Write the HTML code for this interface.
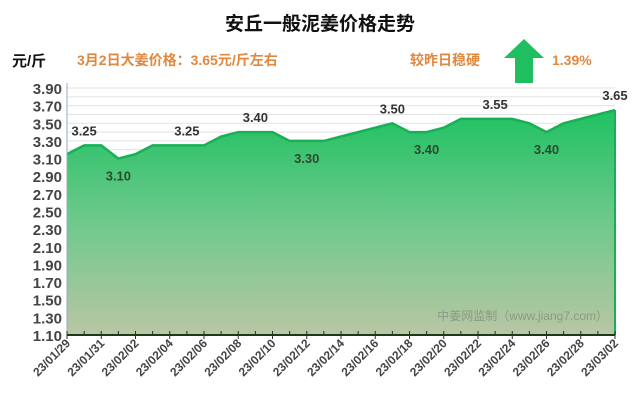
<!DOCTYPE html>
<html><head><meta charset="utf-8"><style>
body{margin:0;background:#fff;width:640px;height:410px;overflow:hidden;font-family:"Liberation Sans","Noto Sans CJK SC",sans-serif}
</style></head><body>
<svg width="640" height="410" style="font-family:'Liberation Sans','Noto Sans CJK SC',sans-serif">
<defs><linearGradient id="g" x1="0" y1="0" x2="0" y2="1"><stop offset="0" stop-color="#1fc162"/><stop offset="0.5" stop-color="#6fc98c"/><stop offset="1" stop-color="#b9c6a4"/></linearGradient></defs>
<text x="320" y="30" text-anchor="middle" font-size="19" font-weight="bold" fill="#111">安丘一般泥姜价格走势</text>
<text x="12" y="66" font-size="15" font-weight="bold" fill="#111">元/斤</text>
<text x="77" y="65" font-size="14" font-weight="bold" fill="#e2883e">3月2日大姜价格：3.65元/斤左右</text>
<text x="410" y="65" font-size="14" font-weight="bold" fill="#e2883e">较昨日稳硬</text>
<polygon points="524,39 544,58 533,58 533,83 515,83 515,58 504,58" fill="#1fbf60"/>
<text x="552" y="65" font-size="14" font-weight="bold" fill="#e2883e">1.39%</text>
<g id="grid"></g><g id="area"></g><g id="yt"></g><g id="xt"></g><g id="lbl"></g>
<text x="608" y="320" text-anchor="end" font-size="12" fill="#8a9a84">中姜网监制（www.jiang7.com）</text>
</svg>
<script>
const dates=["23/01/29","23/01/30","23/01/31","23/02/01","23/02/02","23/02/03","23/02/04","23/02/05","23/02/06","23/02/07","23/02/08","23/02/09","23/02/10","23/02/11","23/02/12","23/02/13","23/02/14","23/02/15","23/02/16","23/02/17","23/02/18","23/02/19","23/02/20","23/02/21","23/02/22","23/02/23","23/02/24","23/02/25","23/02/26","23/02/27","23/02/28","23/03/01","23/03/02"];
const prices=[3.15,3.25,3.25,3.10,3.15,3.25,3.25,3.25,3.25,3.35,3.40,3.40,3.40,3.30,3.30,3.30,3.35,3.40,3.45,3.50,3.40,3.40,3.45,3.55,3.55,3.55,3.55,3.50,3.40,3.50,3.55,3.60,3.65];
const yTicks=[1.10,1.30,1.50,1.70,1.90,2.10,2.30,2.50,2.70,2.90,3.10,3.30,3.50,3.70,3.90];
const labelIdx=[1,3,7,11,14,19,21,25,28,32];
const labelPos=["a","b","a","a","b","a","b","a","b","a"];
const X0=67,X1=615,Y0=335,Y1=88,ymin=1.10,ymax=3.90;
const x=i=>X0+(X1-X0)*i/(dates.length-1);
const y=v=>Y0-(Y0-Y1)*(v-ymin)/(ymax-ymin);
const NS="http://www.w3.org/2000/svg";
function mk(t,a,p){const e=document.createElementNS(NS,t);for(const k in a)e.setAttribute(k,a[k]);document.getElementById(p).appendChild(e);return e;}
for(let v=ymin;v<=ymax+0.001;v+=0.1){const l=mk("line",{x1:X0,x2:X1,y1:y(v),y2:y(v),stroke:"#e2e2e2","stroke-width":1},"grid");

}
let d="M"+x(0)+","+Y0;prices.forEach((p,i)=>d+=" L"+x(i)+","+y(p));d+=" L"+x(prices.length-1)+","+Y0+"Z";
const a=mk("path",{d:d,fill:"url(#g)"},"area");


let ld="";prices.forEach((p,i)=>ld+=(i?" L":"M")+x(i)+","+y(p));
const ln=mk("path",{d:ld,fill:"none",stroke:"#18b055","stroke-width":2.5},"area");


const r=mk("line",{x1:X1,x2:X1,y1:y(prices[prices.length-1]),y2:Y0,stroke:"#18b055","stroke-width":2},"area");


const ya=mk("line",{x1:X0,x2:X0,y1:Y1-5,y2:Y0,stroke:"#9ab","stroke-width":1},"area");


const xa=mk("line",{x1:X0,x2:X1,y1:Y0,y2:Y0,stroke:"#1a3a1a","stroke-width":2},"area");


yTicks.forEach(v=>{const t=mk("text",{x:X0-5,y:y(v)+6,"text-anchor":"end","font-size":15,"font-weight":"bold",fill:"#444"},"yt");t.textContent=v.toFixed(2);

});
dates.forEach((dt,i)=>{const tk=mk("line",{x1:x(i),x2:x(i),y1:Y0-4,y2:Y0+(i%2?0:4),stroke:"#1a3a1a","stroke-width":1},"xt");


if(i%2===0){const t=mk("text",{transform:`translate(${x(i)+4},${Y0+9}) rotate(-45)`,"text-anchor":"end","font-size":12,"font-weight":"bold",fill:"#444"},"xt");t.textContent=dt;

}});
labelIdx.forEach((i,k)=>{const ab=labelPos[k]==="a";const t=mk("text",{x:x(i),y:ab?y(prices[i])-10:y(prices[i])+22,"text-anchor":"middle","font-size":13,"font-weight":"bold",fill:ab?"#333":"#2d4a30"},"lbl");t.textContent=prices[i].toFixed(2);

});
</script>
</body></html>
